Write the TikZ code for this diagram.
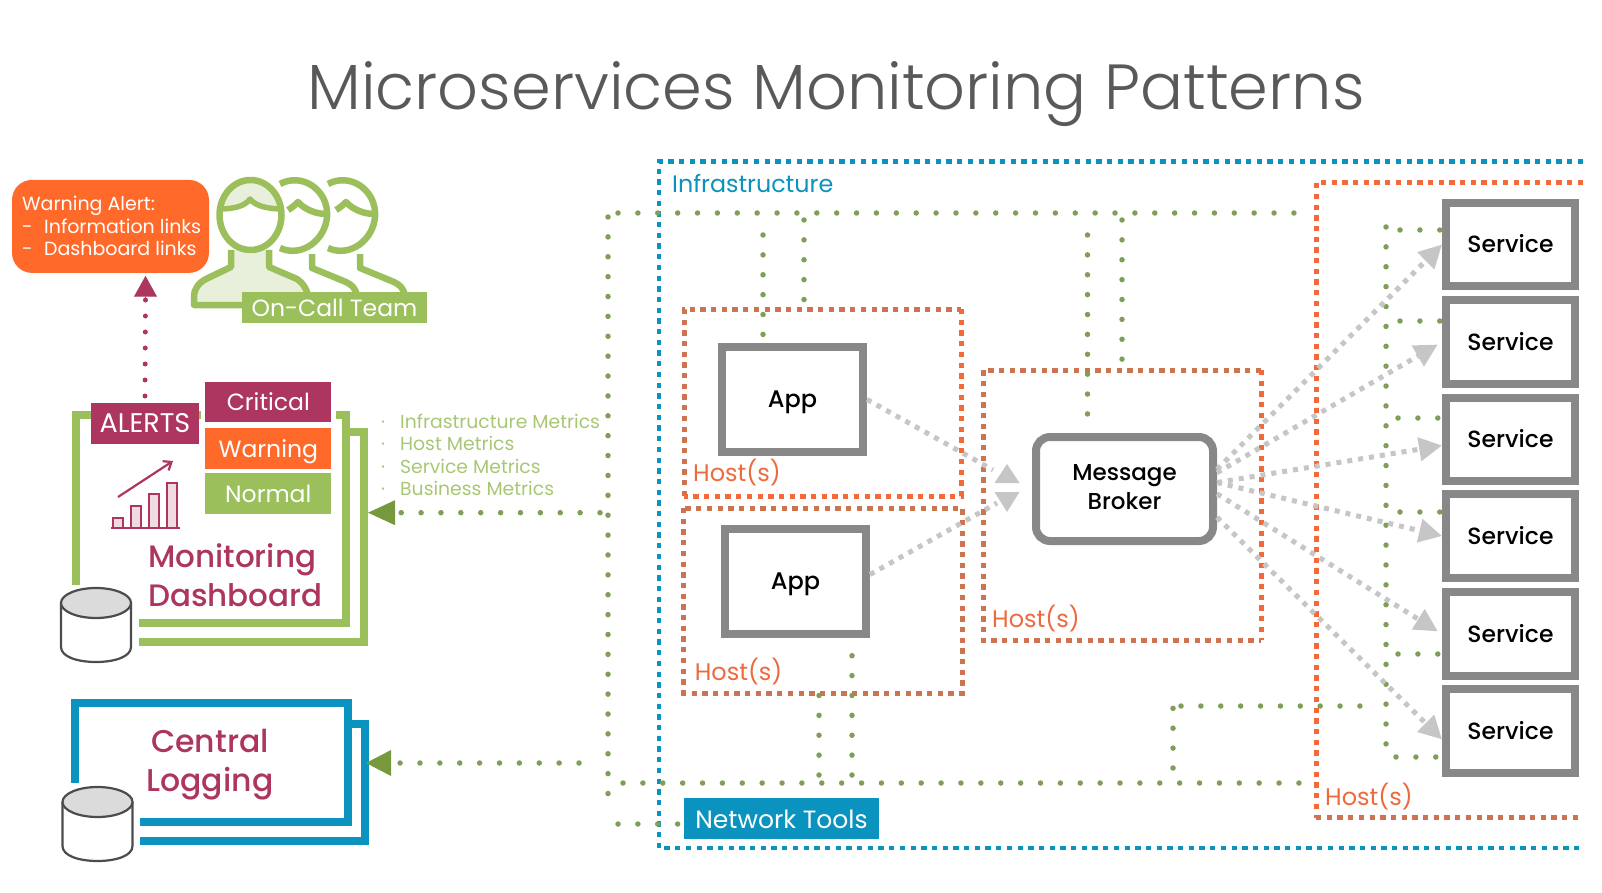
\documentclass[tikz,border=0pt]{standalone}
\usepackage{fontspec}
\setmainfont{Poppins}
\newfontfamily\titlefont{Poppins Light}
\newfontfamily\medfont{Poppins Medium}
\usetikzlibrary{arrows.meta}
\definecolor{mauve}{HTML}{AD3660}
\definecolor{alarm}{HTML}{FF6A2B}
\definecolor{leaf}{HTML}{9BBF5B}
\definecolor{leaflight}{HTML}{E8F0DC}
\definecolor{leafdark}{HTML}{76993D}
\definecolor{dotgreen}{HTML}{7F9E56}
\definecolor{metricgreen}{HTML}{A8C774}
\definecolor{sky}{HTML}{0A93BE}
\definecolor{hostorange}{HTML}{F4683A}
\definecolor{hostbrown}{HTML}{CC7350}
\definecolor{boxgray}{HTML}{888888}
\definecolor{flowgray}{HTML}{C6C6C6}
\tikzset{
  tag/.style={inner sep=0pt, outer sep=0pt, text=white, text height=22pt, text depth=5pt},
  tagfont/.style={font=\fontsize{23.5}{26}\selectfont},
  frame/.style={line width=8pt},
  skydash/.style={sky, line width=4.5pt, dash pattern=on 5.3pt off 5.4pt},
  hostzone/.style={inner sep=0pt, outer sep=0pt},
  hostor/.style={hostorange, line width=5pt, dash pattern=on 5.3pt off 5.4pt},
  hostbr/.style={hostbrown, line width=5pt, dash pattern=on 5.3pt off 5.4pt},
  hostlabel/.style={anchor=west, inner sep=0pt, text=hostorange!80!hostbrown, font=\fontsize{24}{28}\selectfont},
  appbox/.style={draw=boxgray, line width=8pt, fill=white, inner sep=0pt, minimum width=141pt, minimum height=105pt, text height=21pt, text depth=5pt, font=\medfont\fontsize{24}{26}\selectfont},
  svcbox/.style={draw=boxgray, line width=8pt, fill=white, inner sep=0pt, minimum width=129pt, minimum height=83.5pt, text height=21pt, text depth=5pt, font=\medfont\fontsize{23.5}{26}\selectfont},
  dotline/.style={dotgreen, line width=5.5pt, line cap=round, dash pattern=on 0pt off 19.88pt},
  flow/.style={flowgray, line width=5pt, dash pattern=on 5pt off 6pt},
  flowtip/.style={flow, -{Triangle[length=23pt, width=23pt]}},
  headline/.style={leaf, line width=6.5pt, line join=round}
}
\begin{document}
\begin{tikzpicture}[x=1pt, y=-1pt]
\useasboundingbox (0,0) rectangle (1602,893);

\node[font=\titlefont\fontsize{63.8}{70}\selectfont, text=black!65] (title) at (836,94) {Microservices Monitoring Patterns};

\draw[skydash] (1583,161.7) -- (659,161.7) -- (659,848) -- (1583,848);
\node[anchor=west, inner sep=0pt, text=sky, font=\fontsize{23.8}{28}\selectfont] (infra) at (672,184) {Infrastructure};

\node[hostzone, minimum width=277pt, minimum height=187pt] (hostA) at (822.5,402.5) {};
\node[hostzone, minimum width=278.5pt, minimum height=185pt] (hostB) at (823.2,600.5) {};
\node[hostzone, minimum width=278pt, minimum height=270pt] (hostC) at (1122,505) {};
\draw[hostbr] (hostA.south west) -- (hostA.north west) -- (hostA.north east);
\draw[hostor] (hostA.north east) -- (hostA.south east) -- (hostA.south west);
\draw[hostbr] (hostB.north west) rectangle (hostB.south east);
\draw[hostbr] (hostC.north east) -- (hostC.north west) -- (hostC.south west) -- (hostC.south east);
\draw[hostor] (hostC.north east) -- (hostC.south east);
\draw[hostor] (1583,182.7) -- (1316,182.7) -- (1316,817.7);
\draw[hostbr] (1316,817.7) -- (1583,817.7);
\node[hostlabel] (hostAl) at (693,473) {Host(s)};
\node[hostlabel] (hostBl) at (694.6,672) {Host(s)};
\node[hostlabel] (hostCl) at (992,619) {Host(s)};
\node[hostlabel] (hostDl) at (1325,797) {Host(s)};

\node[appbox] (appA) at (792.5,399.5) {App};
\node[appbox] (appB) at (795.5,581) {App};
\node[draw=boxgray, line width=8pt, fill=white, rounded corners=14pt, inner sep=0pt, minimum width=177pt, minimum height=104pt, align=center, font=\medfont\fontsize{23}{29}\selectfont] (broker) at (1124.5,489) {\raisebox{4pt}{Message}\\\raisebox{4pt}{Broker}};
\node[svcbox] (svcA) at (1510.5,244.5) {Service};
\node[svcbox] (svcB) at (1510.5,342) {Service};
\node[svcbox] (svcC) at (1510.5,439.5) {Service};
\node[svcbox] (svcD) at (1510.5,536) {Service};
\node[svcbox] (svcE) at (1510.5,634) {Service};
\node[svcbox] (svcF) at (1510.5,731) {Service};
\node[tag, fill=sky, font=\fontsize{25}{28}\selectfont, minimum width=195pt, minimum height=41pt, text height=24pt] (tools) at (781.5,818.5) {Network Tools};

\coordinate (leftTop) at (608,217);
\coordinate (leftEnd) at (608,813);
\coordinate (topBus) at (618,213);
\coordinate (topEnd) at (1294,213);
\coordinate (lowBus) at (623,783);
\coordinate (lowEnd) at (1299,783);
\coordinate (toolBus) at (618,824);
\coordinate (tapA) at (763,235);
\coordinate (tapB) at (804,220);
\coordinate (tapC) at (1087.5,235);
\coordinate (tapD) at (1122,220);
\coordinate (tapE) at (852,775);
\coordinate (tapF) at (819,775);
\coordinate (riseA) at (1173,768);
\coordinate (riseB) at (1173,708);
\coordinate (runA) at (1181,706);
\coordinate (runB) at (1361,706);
\coordinate (svcBus) at (1386,227);
\coordinate (svcEnd) at (1386,744);
\coordinate (stubA) at (1400,230);
\coordinate (stubB) at (1400,321);
\coordinate (stubC) at (1398,418);
\coordinate (stubD) at (1400,512);
\coordinate (stubE) at (1398,654);
\coordinate (stubF) at (1396,757);
\draw[dotline] (leftTop) -- (leftEnd);
\draw[dotline] (topBus) -- (topEnd);
\draw[dotline] (lowBus) -- (lowEnd);
\draw[dotline] (toolBus) -- (tools.west |- toolBus);
\draw[dotline] (tapA) -- (tapA |- appA.north);
\draw[dotline] (tapB) -- (tapB |- hostA.north);
\draw[dotline] (tapC) -- (tapC |- broker.north);
\draw[dotline] (tapD) -- (tapD |- hostC.north);
\draw[dotline] (tapE) -- (tapE |- appB.south);
\draw[dotline] (tapF) -- (tapF |- hostB.south);
\draw[dotline] (riseA) -- (riseB);
\draw[dotline] (runA) -- (runB);
\draw[dotline] (svcBus) -- (svcEnd);
\draw[dotline] (stubA) -- (stubA -| svcA.west);
\draw[dotline] (stubB) -- (stubB -| svcB.west);
\draw[dotline] (stubC) -- (stubC -| svcC.west);
\draw[dotline] (stubD) -- (stubD -| svcD.west);
\draw[dotline] (stubE) -- (stubE -| svcE.west);
\draw[dotline] (stubF) -- (stubF -| svcF.west);

\coordinate (flowA) at (993,470);
\coordinate (flowB) at (997,503);
\draw[flow] (appA.east) -- (flowA);
\draw[flow] (appB.5) -- (flowB);
\fill[flowgray] (994.5,483) -- (1007,464) -- (1019.5,483) -- cycle;
\fill[flowgray] (994.5,492) -- (1007,512) -- (1019.5,492) -- cycle;
\draw[flowtip] (broker.12) -- (svcA.west);
\draw[flowtip, shorten >=5pt] (broker.10) -- (svcB.west);
\draw[flowtip] (broker.4) -- (svcC.185);
\draw[flowtip] (broker.4) -- (svcD.west);
\draw[flowtip, shorten >=5pt] (broker.-3) -- (svcE.west);
\draw[flowtip] (broker.-17) -- (svcF.187);

\draw[frame, leaf] (75.5,585) -- (75.5,415) -- (346,415) -- (346,623) -- (139,623);
\draw[frame, leaf] (350,432) -- (363.5,432) -- (363.5,642) -- (139,642);
\fill[white] (201,408) rectangle (336,426);
\draw[frame, sky] (75,783) -- (75,703) -- (347.5,703) -- (347.5,822) -- (140,822);
\draw[frame, sky] (351,724) -- (365,724) -- (365,840.5) -- (140,840.5);

\node[tag, fill=mauve, font=\fontsize{27}{30}\selectfont, minimum width=108pt, minimum height=41pt] (alerts) at (145,423.5) {ALERTS};
\node[tag, fill=mauve, tagfont, minimum width=126pt, minimum height=39.7pt] (critical) at (268.3,401.8) {Critical};
\node[tag, fill=alarm, tagfont, minimum width=126pt, minimum height=41pt] (warning) at (268.3,448.5) {Warning};
\node[tag, fill=leaf, tagfont, minimum width=126pt, minimum height=41pt] (normal) at (268.3,493.5) {Normal};
\node[tag, fill=alarm, rounded corners=20pt, minimum width=197pt, minimum height=93pt] (notice) at (110.5,226.4) {};
\node[anchor=north west, inner sep=0pt, text=white, align=left, font=\fontsize{19}{22.5}\selectfont] (noticetext) at (22,196) {Warning Alert:\\\makebox[22pt][l]{-}Information links\\\makebox[22pt][l]{-}Dashboard links};
\coordinate (alertTip) at (145.5,276);
\draw[mauve, line width=5pt, line cap=round, dash pattern=on 0pt off 16pt] (alerts.north) ++(0,-7) -- (145.5,298);
\draw[-{Triangle[length=20.7pt, width=23pt]}, mauve, line width=0.1pt] (145.5,297) -- (alertTip);

\fill[mauve!18] (113,528) rectangle (122.6,518) (131,528) rectangle (141,506) (149,528) rectangle (159,494) (167,528) rectangle (177,483);
\draw[mauve, line width=2pt] (113,528) |- (122.6,518) -- (122.6,528) (131,528) |- (141,506) -- (141,528) (149,528) |- (159,494) -- (159,528) (167,528) |- (177,483) -- (177,528);
\draw[mauve, line width=2.2pt] (111,528) -- (180,528);
\draw[mauve, line width=2.2pt, -{Straight Barb[length=7pt, width=11pt]}] (118,497) -- (173,461);

\node[text=mauve, align=left, inner sep=0pt, anchor=north west, font=\medfont\fontsize{31}{39}\selectfont] (board) at (148,543) {Monitoring\\Dashboard};
\node[text=mauve, align=center, inner sep=0pt, font=\medfont\fontsize{31.5}{39}\selectfont] (logging) at (210,765) {Central\\Logging};

\draw[line width=2.2pt, black!70, fill=white] (61,603) -- (61,647) .. controls (61,657) and (78,662) .. (96,662) .. controls (114,662) and (131,657) .. (131,647) -- (131,603);
\draw[line width=2.2pt, black!70, fill=black!14] (96,603) ellipse (35 and 15);
\draw[line width=2.2pt, black!70, fill=white] (62.5,802) -- (62.5,846) .. controls (62.5,856) and (79.5,861) .. (97.5,861) .. controls (115.5,861) and (132.5,856) .. (132.5,846) -- (132.5,802);
\draw[line width=2.2pt, black!70, fill=black!14] (97.5,802) ellipse (35 and 15);

\coordinate (metricBus) at (600,512.7);
\coordinate (metricTip) at (368,512.7);
\coordinate (logBus) at (579,763);
\coordinate (logTip) at (366,763);
\draw[dotline, -{Triangle[length=27pt, width=25pt, fill=leafdark, line width=0pt]}] (metricBus) -- (metricTip);
\draw[dotline, -{Triangle[length=25pt, width=26pt, fill=leafdark, line width=0pt]}] (logBus) -- (logTip);
\node[anchor=north west, inner sep=0pt, text=metricgreen, align=left, font=\fontsize{18.8}{22.5}\selectfont] (metrics) at (381,413.5) {\makebox[19pt][l]{·}Infrastructure Metrics\\\makebox[19pt][l]{·}Host Metrics\\\makebox[19pt][l]{·}Service Metrics\\\makebox[19pt][l]{·}Business Metrics};

\begin{scope}[shift={(48,0)}]
\draw[headline] (280,184) .. controls (302,172) and (329,190) .. (327,217) .. controls (325,240) and (302,258) .. (280,248);
\draw[headline] (288,210) .. controls (293,207) and (296,204) .. (298,202) .. controls (305,210) and (317,214) .. (326,214);
\draw[headline] (312,254) -- (312,268) -- (346,282) .. controls (352,285) and (355,288) .. (357,295);
\end{scope}
\draw[headline] (280,184) .. controls (302,172) and (329,190) .. (327,217) .. controls (325,240) and (302,258) .. (280,248);
\draw[headline] (288,210) .. controls (293,207) and (296,204) .. (298,202) .. controls (305,210) and (317,214) .. (326,214);
\draw[headline] (312,254) -- (312,268) -- (346,282) .. controls (352,285) and (355,288) .. (357,295);
\draw[headline, fill=leaflight] (231,250) -- (231,267) -- (206,279) .. controls (198,283) and (194,290) .. (194,296) -- (194,305) -- (243,305) -- (308,295) .. controls (306,288) and (303,283) .. (297,279) -- (269,267) -- (269,250);
\draw[fill=white, draw=none] (250.5,215) ellipse (31 and 35);
\begin{scope}
\clip (250.5,215) ellipse (31 and 35);
\fill[leaflight] (215,175) rectangle (286,209);
\fill[white] (218,209) .. controls (235,209) and (245,206) .. (250,199) .. controls (255,206) and (268,209) .. (283,209) -- (283,216) -- (218,216) -- cycle;
\draw[headline, line width=5.5pt] (218,209) .. controls (235,209) and (245,206) .. (250,199) .. controls (255,206) and (268,209) .. (283,209);
\end{scope}
\draw[headline] (250.5,215) ellipse (31 and 35);
\node[tag, fill=leaf, tagfont, minimum width=185pt, minimum height=31pt] (team) at (334.5,307.5) {On-Call Team};
\end{tikzpicture}
\end{document}
